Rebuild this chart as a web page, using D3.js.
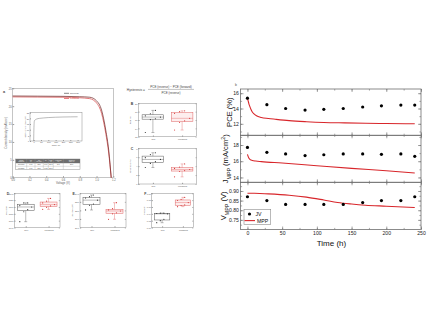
<!DOCTYPE html>
<html>
<head>
<meta charset="utf-8">
<script src="https://cdn.jsdelivr.net/npm/d3@7"></script>
<style>
  html, body { margin: 0; padding: 0; background: #fff; }
  svg { display: block; }
  text { font-family: "Liberation Sans", Arial, Helvetica, sans-serif; }
</style>
</head>
<body>
<svg id="fig" width="430" height="322"></svg>
<script>
// ---------------- long-term stability (right-hand figure) ----------------
const stabilityTimes = [0, 28, 55, 83, 110, 138, 166, 193, 221, 241];
const jvPCE  = [15.35, 14.5, 14.0, 13.8, 13.9, 14.0, 14.2, 14.35, 14.45, 14.45];
const jvJmpp = [17.7, 17.1, 16.9, 16.7, 16.8, 16.9, 16.9, 16.85, 16.9, 16.6];
const jvVmpp = [0.87, 0.85, 0.83, 0.83, 0.83, 0.83, 0.84, 0.85, 0.85, 0.87];

const mppPceTime = [0, 1, 2, 3.5, 5, 7, 9.5, 13, 20, 30, 40, 60, 85, 110, 140, 170, 200, 241];
const mppPce     = [15.35, 15.0, 14.65, 14.25, 13.9, 13.55, 13.3, 13.05, 12.83, 12.7, 12.6, 12.42, 12.28, 12.18, 12.12, 12.07, 12.04, 12.0];
const mppJTime   = [0, 1, 2, 4, 7, 12, 20, 50, 100, 150, 200, 241];
const mppJ       = [16.85, 16.6, 16.4, 16.2, 16.1, 16.02, 15.95, 15.78, 15.45, 15.12, 14.82, 14.55];
const mppVTime   = [0, 10, 30, 60, 85, 110, 130, 150, 170, 200, 241];
const mppV       = [0.888, 0.888, 0.885, 0.878, 0.868, 0.853, 0.84, 0.832, 0.826, 0.821, 0.814];

const timeTicks = [0, 50, 100, 150, 200, 250];
const pceTicks  = [12, 14, 16];
const jTicks    = [14, 16, 18];
const vTicks    = [0.75, 0.80, 0.85, 0.90];
const legendLabels = ["JV", "MPP"];

// ---------------- device characterisation (left-hand figure) ----------------
const jvVoltage = [0, 0.3, 0.6, 0.8, 0.92, 1.0, 1.06, 1.11, 1.145, 1.175];
const jvReverse = [22.85, 22.8, 22.75, 22.65, 22.5, 21.5, 18.9, 13.3, 7.75, 0];
const jvForward = [22.6, 22.55, 22.5, 22.35, 22.1, 20.9, 18.0, 12.4, 6.9, 0];
const voltageTicks = [0, 0.2, 0.4, 0.6, 0.8, 1.0, 1.2];
const currentTicks = [0, 5, 10, 15, 20, 25];

const trackTime = [0, 2, 5, 10, 20, 40, 70, 100, 150, 200, 250, 300];
const trackJ    = [0, 12, 17.9, 18.6, 19.4, 20.0, 20.4, 20.7, 21.0, 21.2, 21.3, 21.4];
const trackTimeTicks = [0, 50, 100, 150, 200, 250, 300];
const trackJTicks = [0, 5, 10, 15, 20, 25];

const tableHeader = [["Voltage", "scanning"], ["Voc", "(V)"], ["Jsc", "(mA/cm²)"], ["FF", ""], ["PCE", "(%)"], ["Hysteresis", "(%)"], ["Stabilized", "PCE (%)"]];
const tableReverse = ["Reverse", "1.17", "22.9", "0.79", "21.2", "3.3", "20.0"];
const tableForward = ["Forward", "1.16", "22.6", "0.78", "20.5", "", ""];

const groupNames = ["Ref", "Modified"];
const pceRef  = [13.0, 16.1, 16.3, 16.7, 17.0, 17.5, 18.3];
const pceMod  = [13.6, 15.4, 15.8, 16.4, 17.6, 18.0, 18.2];
const hystRef = [3.7, 4.6, 5.0, 5.5, 5.9, 6.6, 7.0];
const hystMod = [1.6, 2.8, 3.0, 3.25, 3.5, 3.8, 4.5];
const vocRef  = [1057, 1086, 1092, 1100, 1104, 1112, 1112];
const vocMod  = [1093, 1099, 1103, 1107, 1112, 1117, 1125];
const jscRef  = [22.05, 22.6, 22.75, 23.2, 23.45, 23.6, 23.8];
const jscMod  = [20.96, 21.6, 21.72, 21.93, 22.05, 22.2, 22.9];
const ffRef   = [0.714, 0.72, 0.724, 0.74, 0.741, 0.742, 0.742];
const ffMod   = [0.761, 0.764, 0.766, 0.773, 0.779, 0.782, 0.788];

// ---------------------------------------------------------------------------
const RED = "#d8262b";
const svg = d3.select("#fig");
svg.append("rect").attr("width", 430).attr("height", 322).attr("fill", "#fff");

function styleAxis(g, color, fontSize) {
  g.select(".domain").remove();
  g.selectAll("line").attr("stroke", color).attr("stroke-width", 0.6);
  g.selectAll("text").attr("fill", color).attr("font-size", fontSize).attr("font-family", null);
}

// ======================= right: stability panels =======================
const sx = d3.scaleLinear().domain([-10, 250]).range([240.5, 421]);
const minorTime = d3.range(0, 251, 25);
const frameColor = "#6f6f6f";
const TICK_FONT = 5.1;

const panels = [
  { top: 89,    bottom: 135.3, domain: [10.5, 16.55], ticks: pceTicks, minor: d3.range(11, 16.6, 1), fmt: d3.format("d"),
    jv: jvPCE, mppT: mppPceTime, mpp: mppPce },
  { top: 135.3, bottom: 182.3, domain: [13.4, 19.2], ticks: jTicks, minor: d3.range(14, 19.1, 1), fmt: d3.format("d"),
    jv: jvJmpp, mppT: mppJTime, mpp: mppJ },
  { top: 182.3, bottom: 229.5, domain: [0.70, 0.945], ticks: vTicks, minor: d3.range(0.725, 0.94, 0.025), fmt: d3.format(".2f"),
    jv: jvVmpp, mppT: mppVTime, mpp: mppV }
];

const right = svg.append("g");
panels.forEach((p, i) => {
  const y = d3.scaleLinear().domain(p.domain).range([p.bottom, p.top]);
  const L = sx.range()[0], R = sx.range()[1];

  // inward ticks on all four sides
  const left = right.append("g").attr("transform", `translate(${L},0)`)
    .call(d3.axisLeft(y).tickValues(p.ticks).tickSize(-3).tickPadding(1.6).tickFormat(p.fmt));
  styleAxis(left, "#222", TICK_FONT);
  left.selectAll("line").attr("stroke", frameColor);
  right.append("g").attr("transform", `translate(${L},0)`)
    .call(d3.axisLeft(y).tickValues(p.minor).tickSize(-1.6).tickFormat(""))
    .call(g => styleAxis(g, frameColor, 0));
  right.append("g").attr("transform", `translate(${R},0)`)
    .call(d3.axisRight(y).tickValues(p.ticks).tickSize(-3).tickFormat(""))
    .call(g => styleAxis(g, frameColor, 0));
  right.append("g").attr("transform", `translate(${R},0)`)
    .call(d3.axisRight(y).tickValues(p.minor).tickSize(-1.6).tickFormat(""))
    .call(g => styleAxis(g, frameColor, 0));
  right.append("g").attr("transform", `translate(0,${p.top})`)
    .call(d3.axisTop(sx).tickValues(timeTicks).tickSize(-3).tickFormat(""))
    .call(g => styleAxis(g, frameColor, 0));
  right.append("g").attr("transform", `translate(0,${p.top})`)
    .call(d3.axisTop(sx).tickValues(minorTime).tickSize(-1.6).tickFormat(""))
    .call(g => styleAxis(g, frameColor, 0));
  const bottomAxis = right.append("g").attr("transform", `translate(0,${p.bottom})`)
    .call(d3.axisBottom(sx).tickValues(timeTicks).tickSize(-3).tickPadding(2.2)
      .tickFormat(i === 2 ? d3.format("d") : ""));
  styleAxis(bottomAxis, "#222", TICK_FONT);
  bottomAxis.selectAll("line").attr("stroke", frameColor);
  right.append("g").attr("transform", `translate(0,${p.bottom})`)
    .call(d3.axisBottom(sx).tickValues(minorTime).tickSize(-1.6).tickFormat(""))
    .call(g => styleAxis(g, frameColor, 0));

  // frame
  right.append("rect").attr("x", L).attr("y", p.top).attr("width", R - L).attr("height", p.bottom - p.top)
    .attr("fill", "none").attr("stroke", frameColor).attr("stroke-width", 0.8);

  // MPP tracking line
  const line = d3.line().x((d, k) => sx(p.mppT[k])).y(d => y(d)).curve(d3.curveMonotoneX);
  right.append("path").datum(p.mpp).attr("d", line)
    .attr("fill", "none").attr("stroke", RED).attr("stroke-width", 1.1);

  // J-V scan points
  right.append("g").selectAll("circle").data(p.jv).join("circle")
    .attr("cx", (d, k) => sx(stabilityTimes[k])).attr("cy", d => y(d)).attr("r", 1.6).attr("fill", "#000");
});

// axis titles
function rotLabel(parent, x, yc, parts, size) {
  const t = parent.append("text").attr("transform", `translate(${x},${yc}) rotate(-90)`)
    .attr("text-anchor", "middle").attr("font-size", size).attr("fill", "#111");
  parts.forEach(([s, kind]) => {
    const ts = t.append("tspan").text(s);
    if (kind === "sub") ts.attr("font-size", size * 0.7).attr("baseline-shift", "sub");
    if (kind === "sup") ts.attr("font-size", size * 0.7).attr("baseline-shift", "super");
  });
  return t;
}
rotLabel(right, 232, (panels[0].top + panels[0].bottom) / 2, [["PCE (%)"]], 7.6);
rotLabel(right, 227.6, (panels[1].top + panels[1].bottom) / 2, [["J"], ["MPP", "sub"], [" (mA/cm"], ["2", "sup"], [")"]], 7.6);
rotLabel(right, 225.8, (panels[2].top + panels[2].bottom) / 2, [["V"], ["MPP", "sub"], [" (V)"]], 7.6);
right.append("text").attr("x", 331.5).attr("y", 246).attr("text-anchor", "middle")
  .attr("font-size", 8).attr("fill", "#111").text("Time (h)");
right.append("text").attr("x", 235).attr("y", 85.5).attr("font-size", 3.5).attr("fill", "#555").text("b");

// legend
const lg = right.append("g");
lg.append("rect").attr("x", 244).attr("y", 209.3).attr("width", 26.7).attr("height", 15)
  .attr("fill", "#fff").attr("stroke", "#8a8a8a").attr("stroke-width", 0.6);
lg.append("circle").attr("cx", 249.5).attr("cy", 214).attr("r", 1.6).attr("fill", "#000");
lg.append("text").attr("x", 255.5).attr("y", 216).attr("font-size", 5.2).attr("fill", "#111").text(legendLabels[0]);
lg.append("line").attr("x1", 244.5).attr("x2", 255).attr("y1", 220.6).attr("y2", 220.6)
  .attr("stroke", RED).attr("stroke-width", 1.1);
lg.append("text").attr("x", 257).attr("y", 222.5).attr("font-size", 5.2).attr("fill", "#111").text(legendLabels[1]);

// ======================= left: device characterisation =======================
const LG = "#8c8c8c";   // frame grey
const LT = "#5a5a5a";   // text grey
const left = svg.append("g");

function smallFrame(g, x0, x1, y0, y1) {
  g.append("rect").attr("x", x0).attr("y", y0).attr("width", x1 - x0).attr("height", y1 - y0)
    .attr("fill", "none").attr("stroke", LG).attr("stroke-width", 0.5);
}

// ---- panel a: J-V curves ----
const ax = d3.scaleLinear().domain([0, 1.2]).range([12.7, 113.3]);
const ay = d3.scaleLinear().domain([0, 25]).range([177.7, 88.3]);
left.append("g").attr("transform", "translate(0,177.7)")
  .call(d3.axisBottom(ax).tickValues(voltageTicks).tickSize(-1.5).tickPadding(1).tickFormat(d3.format(".1f")))
  .call(g => styleAxis(g, LT, 2.6));
left.append("g").attr("transform", "translate(12.7,0)")
  .call(d3.axisLeft(ay).tickValues(currentTicks).tickSize(-1.5).tickPadding(1).tickFormat(d3.format("d")))
  .call(g => styleAxis(g, LT, 2.6));
smallFrame(left, 12.7, 113.3, 88.3, 177.7);
const jvLine = d3.line().x((d, k) => ax(jvVoltage[k])).y(d => ay(d)).curve(d3.curveMonotoneX);
left.append("path").datum(jvForward).attr("d", jvLine).attr("fill", "none").attr("stroke", "#e06a6a").attr("stroke-width", 0.9);
left.append("path").datum(jvReverse).attr("d", jvLine).attr("fill", "none").attr("stroke", "#6b2222").attr("stroke-width", 0.7);
left.append("text").attr("x", 63).attr("y", 183.6).attr("text-anchor", "middle").attr("font-size", 2.8).attr("fill", LT).text("Voltage (V)");
left.append("text").attr("transform", "translate(7,133) rotate(-90)").attr("text-anchor", "middle")
  .attr("font-size", 2.8).attr("fill", LT).text("Current density (mA/cm²)");
left.append("text").attr("x", 3).attr("y", 93).attr("font-size", 3.8).attr("font-weight", "bold").attr("fill", "#444").text("a");
left.append("line").attr("x1", 64).attr("x2", 69).attr("y1", 93.3).attr("y2", 93.3).attr("stroke", "#333").attr("stroke-width", 0.6);
left.append("text").attr("x", 70).attr("y", 94.2).attr("font-size", 2.4).attr("fill", "#444").text("Reverse");
left.append("line").attr("x1", 64).attr("x2", 69).attr("y1", 98.5).attr("y2", 98.5).attr("stroke", RED).attr("stroke-width", 0.6);
left.append("text").attr("x", 70).attr("y", 99.4).attr("font-size", 2.4).attr("fill", RED).text("Forward");

// inset: current under maximum power point tracking
const ix = d3.scaleLinear().domain([-25, 330]).range([30, 82]);
const iy = d3.scaleLinear().domain([0, 25]).range([141, 112.7]);
left.append("rect").attr("x", 30).attr("y", 112.7).attr("width", 52).attr("height", 28.3).attr("fill", "#fff");
left.append("g").attr("transform", "translate(0,141)")
  .call(d3.axisBottom(ix).tickValues(trackTimeTicks).tickSize(-1).tickPadding(0.8).tickFormat(d3.format("d")))
  .call(g => styleAxis(g, LT, 2.2));
left.append("g").attr("transform", "translate(30,0)")
  .call(d3.axisLeft(iy).tickValues(trackJTicks).tickSize(-1).tickPadding(0.8).tickFormat(d3.format("d")))
  .call(g => styleAxis(g, LT, 2.2));
smallFrame(left, 30, 82, 112.7, 141);
left.append("path").datum(trackJ)
  .attr("d", d3.line().x((d, k) => ix(trackTime[k])).y(d => iy(d)).curve(d3.curveMonotoneX))
  .attr("fill", "none").attr("stroke", "#777").attr("stroke-width", 0.5);
left.append("text").attr("x", 56).attr("y", 146).attr("text-anchor", "middle").attr("font-size", 2.4).attr("fill", LT).text("Time (s)");
left.append("text").attr("transform", "translate(25.5,127) rotate(-90)").attr("text-anchor", "middle")
  .attr("font-size", 2.2).attr("fill", LT).text("MPP current (mA/cm²)");

// table of photovoltaic parameters
const colEdges = [15.7, 26.7, 35, 43.3, 48.3, 53.3, 63.3, 80];
const rowEdges = [159, 163.2, 166.3, 169.4];
left.append("rect").attr("x", colEdges[0]).attr("y", rowEdges[0]).attr("width", colEdges[7] - colEdges[0])
  .attr("height", rowEdges[1] - rowEdges[0]).attr("fill", "#6e6e6e");
left.append("rect").attr("x", colEdges[0]).attr("y", rowEdges[0]).attr("width", colEdges[7] - colEdges[0])
  .attr("height", rowEdges[3] - rowEdges[0]).attr("fill", "none").attr("stroke", "#777").attr("stroke-width", 0.4);
left.append("line").attr("x1", colEdges[0]).attr("x2", colEdges[7])
  .attr("y1", rowEdges[2]).attr("y2", rowEdges[2]).attr("stroke", "#999").attr("stroke-width", 0.3);
colEdges.slice(1, -1).forEach(xv => left.append("line").attr("x1", xv).attr("x2", xv)
  .attr("y1", rowEdges[0]).attr("y2", rowEdges[3]).attr("stroke", "#999").attr("stroke-width", 0.3));
tableHeader.forEach((lines, c) => {
  const t = left.append("text").attr("text-anchor", "middle").attr("font-size", 1.4).attr("fill", "#eee");
  lines.forEach((s, k) => t.append("tspan").attr("x", (colEdges[c] + colEdges[c + 1]) / 2)
    .attr("y", rowEdges[0] + 1.8 + k * 1.6).text(s));
});
[tableReverse, tableForward].forEach((row, r) => {
  row.forEach((cell, c) => {
    left.append("text").attr("x", (colEdges[c] + colEdges[c + 1]) / 2).attr("y", rowEdges[r + 1] + 2.2)
      .attr("text-anchor", "middle").attr("font-size", 1.7).attr("fill", "#444").text(cell);
  });
});

// hysteresis definition
const eq = left.append("g").attr("fill", "#444");
eq.append("text").attr("x", 145).attr("y", 90.6).attr("text-anchor", "end").attr("font-size", 3.3).text("Hysteresis =");
eq.append("text").attr("x", 171).attr("y", 87.9).attr("text-anchor", "middle").attr("font-size", 3).text("PCE (reverse) − PCE (forward)");
eq.append("line").attr("x1", 148).attr("x2", 194).attr("y1", 89.4).attr("y2", 89.4).attr("stroke", "#555").attr("stroke-width", 0.35);
eq.append("text").attr("x", 171).attr("y", 93.6).attr("text-anchor", "middle").attr("font-size", 3).text("PCE (reverse)");

// ---- box plots ----
function boxPanel(cfg) {
  const g = left.append("g");
  const gx = d3.scalePoint().domain(groupNames).range([cfg.x0, cfg.x1]).padding(0.5);
  const gy = d3.scaleLinear().domain(cfg.domain).range([cfg.y1, cfg.y0]);
  const bw = gx.step() * 0.74;
  g.append("g").attr("transform", `translate(${cfg.x0},0)`)
    .call(d3.axisLeft(gy).ticks(5).tickSize(-1.2).tickPadding(0.8).tickFormat(d3.format(cfg.fmt)))
    .call(a => styleAxis(a, LT, 2.2));
  g.append("g").attr("transform", `translate(${cfg.x1},0)`)
    .call(d3.axisRight(gy).ticks(5).tickSize(-1.2).tickFormat(""))
    .call(a => styleAxis(a, LG, 0));
  g.append("g").attr("transform", `translate(0,${cfg.y1})`)
    .call(d3.axisBottom(gx).tickSize(-1.2).tickPadding(1.6))
    .call(a => styleAxis(a, LT, 2.4));
  smallFrame(g, cfg.x0, cfg.x1, cfg.y0, cfg.y1);
  [cfg.ref, cfg.mod].forEach((vals, gi) => {
    const sorted = vals.slice().sort(d3.ascending);
    const q1 = d3.quantile(sorted, 0.25), med = d3.quantile(sorted, 0.5), q3 = d3.quantile(sorted, 0.75);
    const cx = gx(groupNames[gi]);
    const stroke = gi === 0 ? "#555" : "#e06666";
    const fill = gi === 0 ? "#fff" : "#fdeeee";
    const dot = gi === 0 ? "#333" : "#d84040";
    g.append("line").attr("x1", cx).attr("x2", cx).attr("y1", gy(d3.min(sorted))).attr("y2", gy(d3.max(sorted)))
      .attr("stroke", stroke).attr("stroke-width", 0.4);
    [d3.min(sorted), d3.max(sorted)].forEach(v => g.append("line").attr("x1", cx - 1.5).attr("x2", cx + 1.5)
      .attr("y1", gy(v)).attr("y2", gy(v)).attr("stroke", stroke).attr("stroke-width", 0.4));
    g.append("rect").attr("x", cx - bw / 2).attr("y", gy(q3)).attr("width", bw).attr("height", gy(q1) - gy(q3))
      .attr("fill", fill).attr("stroke", stroke).attr("stroke-width", 0.5);
    g.append("line").attr("x1", cx - bw / 2).attr("x2", cx + bw / 2).attr("y1", gy(med)).attr("y2", gy(med))
      .attr("stroke", stroke).attr("stroke-width", 0.4);
    vals.forEach((v, k) => g.append("circle")
      .attr("cx", cx + ((k % 4) / 3 - 0.5) * bw * 0.7).attr("cy", gy(v)).attr("r", 0.6).attr("fill", dot));
  });
  g.append("text").attr("x", cfg.x0 - 7.5).attr("y", cfg.y0 + 2).attr("font-size", 3.5)
    .attr("font-weight", "bold").attr("fill", "#444").text(cfg.letter);
  g.append("text").attr("transform", `translate(${cfg.x0 - 7},${(cfg.y0 + cfg.y1) / 2}) rotate(-90)`)
    .attr("text-anchor", "middle").attr("font-size", 2.2).attr("fill", LT).text(cfg.title);
}

boxPanel({ x0: 138.3, x1: 196.7, y0: 103.3, y1: 136.7, domain: [12, 20], fmt: "d", ref: pceRef, mod: pceMod, letter: "B", title: "PCE (%)" });
boxPanel({ x0: 138.3, x1: 196.7, y0: 148.3, y1: 184, domain: [0, 8], fmt: "d", ref: hystRef, mod: hystMod, letter: "C", title: "Hysteresis (%)" });
boxPanel({ x0: 14.3, x1: 60, y0: 193.3, y1: 227.5, domain: [1040, 1140], fmt: "d", ref: vocRef, mod: vocMod, letter: "D", title: "Voc (mV)" });
boxPanel({ x0: 80, x1: 126, y0: 193.3, y1: 227.5, domain: [20, 24], fmt: ".1f", ref: jscRef, mod: jscMod, letter: "E", title: "Jsc (mA/cm²)" });
boxPanel({ x0: 151.7, x1: 193.3, y0: 193.3, y1: 227.5, domain: [0.70, 0.80], fmt: ".2f", ref: ffRef, mod: ffMod, letter: "F", title: "Fill factor" });
</script>
</body>
</html>
